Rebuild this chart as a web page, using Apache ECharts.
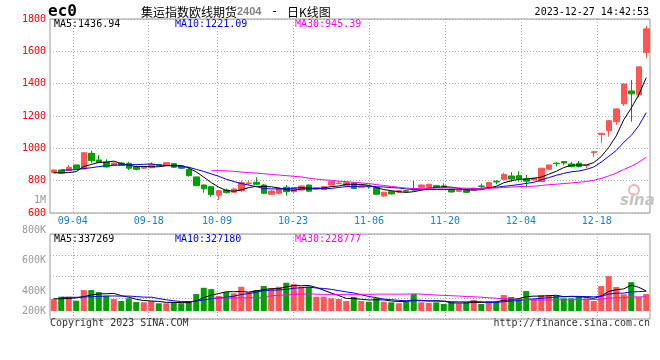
<!DOCTYPE html>
<html><head><meta charset="utf-8">
<script src="https://cdn.jsdelivr.net/npm/echarts@6/dist/echarts.min.js"></script>
<style>html,body{margin:0;padding:0;background:#fff}#c{width:660px;height:360px}</style>
</head><body><div id="c"></div>
<script>
const DATES = ['08-30','08-31','09-01','09-04','09-05','09-06','09-07','09-08','09-11','09-12','09-13','09-14','09-15','09-18','09-19','09-20','09-21','09-22','09-25','09-26','09-27','09-28','10-09','10-10','10-11','10-12','10-13','10-16','10-17','10-18','10-19','10-20','10-23','10-24','10-25','10-26','10-27','10-30','10-31','11-01','11-02','11-03','11-06','11-07','11-08','11-09','11-10','11-13','11-14','11-15','11-16','11-17','11-20','11-21','11-22','11-23','11-24','11-27','11-28','11-29','11-30','12-01','12-04','12-05','12-06','12-07','12-08','12-11','12-12','12-13','12-14','12-15','12-18','12-19','12-20','12-21','12-22','12-25','12-26','12-27'];
const TICK_DATES = ['09-04','09-18','10-09','10-23','11-06','11-20','12-04','12-18'];

const OPEN  = [849,866,862,897,872,969,928,916,893,909, 907,887,877,880,900,895,905,891,870,823, 773,763,710,742,728,738,782,790,773,716, 722,759,732,742,773,748,745,773,782,767, 784,757,765,759,705,732,728,738,745,760, 760,769,767,747,734,742,742,767,753,796, 808,829,831,812,804,794,870,908,918,903, 907,893,973,1085,1108,1165,1275,1355,1330,1592];
const CLOSE = [866,846,883,873,973,924,914,885,909,895, 877,870,887,901,893,911,883,877,831,769, 750,713,738,726,748,788,786,778,722,736, 753,732,757,767,735,757,763,794,786,788, 752,767,762,716,728,718,738,735,742,773, 778,760,757,730,742,728,753,765,788,792, 839,810,812,797,815,877,897,905,909,888, 888,897,979,1093,1171,1244,1398,1337,1504,1739];
const LOW   = [845,840,860,870,870,908,908,880,890,893, 866,864,873,878,890,893,880,873,825,767, 726,701,680,720,724,730,770,775,718,712, 715,707,725,738,730,745,742,770,778,765, 748,755,750,714,700,714,724,730,738,757, 757,755,754,726,730,722,740,752,750,778, 805,794,794,757,800,792,865,888,895,882, 882,875,948,1031,1072,1145,1262,1165,1314,1558];
const HIGH  = [869,868,897,899,975,986,959,932,916,916, 916,893,890,914,903,914,909,893,883,825, 777,767,742,752,758,800,800,821,778,740, 758,773,760,770,777,760,767,797,797,790, 790,772,768,762,732,738,742,742,800,777, 780,773,784,752,745,747,757,782,790,803, 849,852,858,835,818,880,899,916,922,916, 922,899,980,1095,1173,1246,1400,1423,1506,1757];

const MA5  = [849,849,850,856,888,900,913,914,921,905, 896,887,888,886,886,892,895,893,879,854, 822,788,760,739,735,743,757,765,764,762, 755,744,740,749,749,750,756,763,767,778, 777,777,771,757,745,738,732,727,732,741, 753,758,762,760,753,743,742,744,755,765, 787,799,808,810,815,822,840,858,881,895, 897,897,912,949,1006,1077,1177,1249,1331,1437];
const MA10 = [null,866,866,868,875,880,887,892,896,897, 898,900,901,904,896,894,891,890,883,870, 857,842,827,809,795,782,773,763,752,749, 749,751,753,757,755,752,750,752,758,763, 763,767,767,762,761,757,755,749,745,743, 746,745,745,746,747,748,750,753,757,759, 765,770,776,783,790,805,819,833,845,855, 860,869,885,915,950,987,1037,1080,1140,1221];
const MA30 = [null,null,null,null,null,null,null,null,null,null, null,null,null,null,null,null,null,null,null,null, null,862,862,861,858,853,850,847,843,838, 835,831,827,823,815,810,805,802,797,794, 790,786,782,776,770,764,759,754,751,752, 753,754,755,755,755,753,752,751,753,755, 758,761,763,764,766,770,775,778,782,786, 790,795,802,814,829,847,869,889,914,945];

// volume in thousands
const VOLUME_K = [200,239,239,172,351,351,317,256,200,167, 212,150,145,167,129,129,150,129,167,284, 389,367,251,317,296,406,317,351,418,379, 406,473,451,406,406,239,239,212,200,167, 234,167,155,217,155,145,129,155,284,145, 134,145,117,145,129,145,184,117,167,155, 267,234,212,334,200,267,267,251,212,212, 251,212,167,418,585,401,279,484,234,284];
const VOL_MA5  = [205,205,210,220,240,270,286,289,295,258, 230,197,175,168,161,144,144,141,141,172, 224,267,292,322,324,327,317,337,358,374, 374,405,425,423,428,395,348,300,259,211, 210,196,185,188,186,168,160,160,174,172, 169,173,165,137,134,136,144,144,148,154, 178,188,207,240,249,249,256,264,239,242, 239,228,211,252,327,357,370,433,397,336];
const VOL_MA10 = [null,229,229,230,235,240,245,250,252,249, 250,242,232,232,209,187,171,158,155,166, 184,206,216,231,248,276,292,315,340,349, 351,361,381,390,401,385,377,363,341,320, 303,272,243,224,199,189,178,172,181,179, 169,166,163,155,153,153,158,155,143,144, 157,166,176,194,202,214,222,235,240,246, 244,242,237,246,284,298,299,322,324,332];
const VOL_MA30 = [null,null,null,null,null,null,null,null,null,null, null,null,null,null,null,null,null,null,null,null, null,215,216,217,218,220,221,222,223,255, 262,270,277,284,286,282,280,278,278,278, 279,280,280,282,283,283,282,283,287,283, 274,267,262,256,251,242,238,230,222,214, 209,202,194,191,184,185,186,187,188,189, 190,191,192,199,213,221,226,237,236,240];

const VOL_TICK_LABELS = ['1M','800K','600K','400K','200K'];
const PRICE_LEGEND = ['MA5:1436.94','MA10:1221.09','MA30:945.39'];
const VOL_LEGEND = ['MA5:337269','MA10:327180','MA30:228777'];
const TITLE_CODE = 'ec0';
const TITLE_NAME = '集运指数欧线期货';
const TITLE_CONTRACT = '2404';
const TITLE_KIND = '日K线图';
const TIMESTAMP = '2023-12-27 14:42:53';

const UP = '#ff5555', DOWN = '#00a000';
const MONO = '"DejaVu Sans Mono", monospace';
const GRIDC = '#aaaaaa', BORDER = '#999999';
const isTick = (i, v) => TICK_DATES.indexOf(v) >= 0;

const chart = echarts.init(document.getElementById('c'), null, {renderer: 'canvas'});
const hiddenCat = (grid) => ({type:'category', gridIndex:grid, data:DATES, boundaryGap:true, show:false});
const lineS = (name, data, color, xi, yi) => ({type:'line', name, data, xAxisIndex:xi, yAxisIndex:yi, symbol:'none', showSymbol:false, connectNulls:false, lineStyle:{color, width:1}, itemStyle:{color}, z:5, silent:true});
const txt = (text, x, y, fill, font, align) => ({type:'text', x, y, silent:true, style:{text, fill, font, align: align || 'left', verticalAlign:'middle'}});

chart.setOption({
  animation: false,
  backgroundColor: '#fff',
  grid: [
    {left:50, top:19, width:600, height:194, show:true, borderColor:BORDER, borderWidth:1, backgroundColor:'transparent'},
    {left:50, top:234, width:600, height:77, show:false},
    {left:50, top:234, width:600, height:85, show:true, borderColor:BORDER, borderWidth:1, backgroundColor:'transparent'}
  ],
  xAxis: [
    hiddenCat(0),
    {type:'category', gridIndex:0, data:DATES, boundaryGap:false, position:'bottom',
     axisLine:{show:false}, axisTick:{show:false},
     axisLabel:{interval:isTick, color:'#1a80d0', fontFamily:MONO, fontSize:10, margin:3},
     splitLine:{show:true, interval:isTick, lineStyle:{color:GRIDC, type:[1,2], width:1}}},
    hiddenCat(1),
    {type:'category', gridIndex:2, data:DATES, boundaryGap:false, position:'bottom',
     axisLine:{show:false}, axisTick:{show:false}, axisLabel:{show:false},
     splitLine:{show:true, interval:isTick, lineStyle:{color:GRIDC, type:[1,2], width:1}}}
  ],
  yAxis: [
    {type:'value', gridIndex:0, min:600, max:1800, interval:200,
     axisLine:{show:false}, axisTick:{show:false},
     axisLabel:{color:'#ff0000', fontFamily:MONO, fontSize:10, margin:4, formatter: v => String(v)},
     splitLine:{show:true, lineStyle:{color:GRIDC, type:[1,2], width:1}}},
    {type:'value', gridIndex:1, min:0, max:1290, show:false, splitLine:{show:false}},
    {type:'value', gridIndex:2, min:0, max:84, interval:21,
     axisLine:{show:false}, axisTick:{show:false}, axisLabel:{show:false},
     splitLine:{show:true, lineStyle:{color:GRIDC, type:[1,2], width:1}}}
  ],
  series: [
    {type:'candlestick', xAxisIndex:0, yAxisIndex:0, barWidth:6, silent:true,
     data: DATES.map((d, i) => [OPEN[i], CLOSE[i], LOW[i], HIGH[i]]),
     itemStyle:{color:UP, color0:DOWN, borderColor:UP, borderColor0:DOWN, borderWidth:1}},
    lineS('MA5', MA5, '#000000', 0, 0),
    lineS('MA10', MA10, '#0000ff', 0, 0),
    lineS('MA30', MA30, '#ff00ff', 0, 0),
    {type:'bar', xAxisIndex:2, yAxisIndex:1, barWidth:6, silent:true,
     data: VOLUME_K,
     itemStyle:{color: p => CLOSE[p.dataIndex] >= OPEN[p.dataIndex] ? UP : DOWN}},
    lineS('VMA5', VOL_MA5, '#000000', 2, 1),
    lineS('VMA10', VOL_MA10, '#0000ff', 2, 1),
    lineS('VMA30', VOL_MA30, '#ff00ff', 2, 1)
  ],
  graphic: [
    txt(TITLE_CODE, 48, 12, '#000', 'bold 16px ' + MONO),
    txt(TITLE_NAME, 141, 12, '#000', '12px "Noto Sans CJK SC"'),
    txt(TITLE_CONTRACT, 237, 12, '#808080', 'bold 11px "Liberation Sans"'),
    txt('-', 271, 12, '#000', '12px ' + MONO),
    txt(TITLE_KIND, 287, 12, '#000', '12px "Noto Sans CJK SC"'),
    txt(TIMESTAMP, 649, 12, '#000', '10px ' + MONO, 'right'),
    txt(PRICE_LEGEND[0], 54, 24, '#000000', '10px ' + MONO),
    txt(PRICE_LEGEND[1], 175, 24, '#0000ff', '10px ' + MONO),
    txt(PRICE_LEGEND[2], 295, 24, '#ff00ff', '10px ' + MONO),
    txt(VOL_LEGEND[0], 54, 239, '#000000', '10px ' + MONO),
    txt(VOL_LEGEND[1], 175, 239, '#0000ff', '10px ' + MONO),
    txt(VOL_LEGEND[2], 295, 239, '#ff00ff', '10px ' + MONO),
    txt(VOL_TICK_LABELS[0], 46, 200, '#999999', '10px ' + MONO, 'right'),
    txt(VOL_TICK_LABELS[1], 46, 230, '#999999', '10px ' + MONO, 'right'),
    txt(VOL_TICK_LABELS[2], 46, 260, '#999999', '10px ' + MONO, 'right'),
    txt(VOL_TICK_LABELS[3], 46, 291, '#999999', '10px ' + MONO, 'right'),
    txt(VOL_TICK_LABELS[4], 46, 311, '#999999', '10px ' + MONO, 'right'),
    txt('Copyright 2023 SINA.COM', 50, 323, '#333333', '10px ' + MONO),
    txt('http://finance.sina.com.cn', 650, 323, '#333333', '10px ' + MONO, 'right'),
    {type:'circle', shape:{cx:634, cy:190, r:5}, silent:true, z:1, style:{fill:'none', stroke:'#f3b5b5', lineWidth:2}},
    txt('sina', 620, 201, '#c4c4c4', 'italic bold 15px "DejaVu Sans"')
  ]
});
</script>
</body></html>
